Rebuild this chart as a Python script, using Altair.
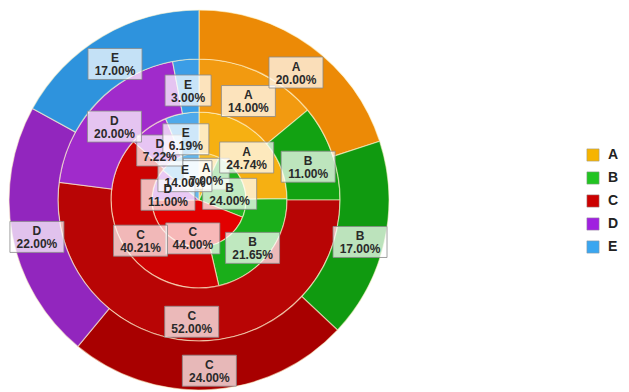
import math
import altair as alt
import pandas as pd

# ---------------- data ----------------
categories = ["A", "B", "C", "D", "E"]
ring1_values = [7.00, 24.00, 44.00, 11.00, 14.00]      # innermost pie
ring2_values = [24.74, 21.65, 40.21, 7.22, 6.19]
ring3_values = [14.00, 11.00, 52.00, 20.00, 3.00]
ring4_values = [20.00, 17.00, 24.00, 22.00, 17.00]     # outermost ring

legend_colors = ["#F6B400", "#22C422", "#CC0000", "#A020E0", "#3AA6F0"]
ring1_colors = ["#F8BE2A", "#20B420", "#E20000", "#B03ED8", "#66B8EE"]
ring2_colors = ["#F6B012", "#1AAE1A", "#CC0202", "#A830D2", "#4FA9EA"]
ring3_colors = ["#F29A10", "#12A212", "#B80505", "#A02BCB", "#3B9DE6"]
ring4_colors = ["#EC8A06", "#109A10", "#A80000", "#9226BE", "#2E93DD"]

rings = [ring1_values, ring2_values, ring3_values, ring4_values]
ring_colors = [ring1_colors, ring2_colors, ring3_colors, ring4_colors]

# ---------------- geometry / style ----------------
CX, CY = 199, 200
radii = [(0, 47), (47, 88), (88, 141), (141, 190)]
label_r = [33, 68, 116, 165]
LABEL_DROP = 6          # labels sit slightly below the segment centres
W, H = 629, 392

arc_rows, label_rows = [], []
for ri, (vals, cols) in enumerate(zip(rings, ring_colors)):
    total = sum(vals)
    cum = 0.0
    for i, (c, v, col) in enumerate(zip(categories, vals, cols)):
        arc_rows.append({"ring": ri, "cat": c, "idx": i, "value": v, "fill": col})
        mid = (cum + v / 2) / total * 2 * math.pi
        cum += v
        r = label_r[ri]
        x = r * math.sin(mid)
        y = r * math.cos(mid) - LABEL_DROP
        pct = f"{v:.2f}%"
        w = 8 * len(pct) + 6
        h = 31
        label_rows.append({
            "ring": ri,
            "text": f"{c}\n{pct}",
            "x": x, "y": y,
            "x1": x - w / 2, "x2": x + w / 2,
            "y1": y - h / 2, "y2": y + h / 2,
        })

arcs = pd.DataFrame(arc_rows)
labels = pd.DataFrame(label_rows)

xscale = alt.Scale(domain=[-CX, W - CX], nice=False, zero=False)
yscale = alt.Scale(domain=[-(H - CY), CY], nice=False, zero=False)

layers = []
for ri, (r_in, r_out) in enumerate(radii):
    layers.append(
        alt.Chart(arcs[arcs.ring == ri])
        .mark_arc(radius=r_out, radius2=r_in, stroke="#fff6d0",
                  strokeWidth=1.2, strokeOpacity=0.6)
        .encode(
            theta=alt.Theta("value:Q", stack="normalize"),
            color=alt.Color("fill:N", scale=None),
            order=alt.Order("idx:Q"),
            x=alt.value(CX), y=alt.value(CY),
        )
    )

# legend-only layer (draws nothing)
legend_df = pd.DataFrame({"cat": categories, "value": [1] * 5})
legend_layer = (
    alt.Chart(legend_df)
    .mark_arc(radius=0, radius2=0)
    .encode(
        theta=alt.Theta("value:Q", stack="normalize"),
        color=alt.Color(
            "cat:N",
            scale=alt.Scale(domain=categories, range=legend_colors),
            legend=alt.Legend(
                title=None, orient="none", legendX=586, legendY=148,
                symbolType="square", symbolSize=150,
                symbolStrokeColor="#999999", symbolStrokeWidth=0.5,
                labelFontSize=14, labelFont="Liberation Sans",
                labelColor="#222222", labelFontWeight="bold",
                rowPadding=7, labelOffset=8,
            ),
        ),
        x=alt.value(CX), y=alt.value(CY),
    )
)

for ri in range(4):
    sub = labels[labels.ring == ri]
    boxes = (
        alt.Chart(sub)
        .mark_rect(fill="#ffffff", fillOpacity=0.72, stroke="#8a8a8a",
                   strokeWidth=1, strokeOpacity=0.8)
        .encode(
            x=alt.X("x1:Q", scale=xscale, axis=None),
            x2="x2:Q",
            y=alt.Y("y1:Q", scale=yscale, axis=None),
            y2="y2:Q",
        )
    )
    texts = (
        alt.Chart(sub)
        .mark_text(font="Liberation Sans", fontSize=12, fontWeight="bold",
                   color="#2a2a2a", lineBreak="\n", lineHeight=13,
                   align="center", baseline="middle", dy=-6)
        .encode(
            x=alt.X("x:Q", scale=xscale, axis=None),
            y=alt.Y("y:Q", scale=yscale, axis=None),
            text="text:N",
        )
    )
    layers += [boxes, texts]

chart = (
    alt.layer(legend_layer, *layers)
    .resolve_scale(color="independent")
    .properties(width=W, height=H, padding=0,
                autosize=alt.AutoSizeParams(type="none"),
                background="#ffffff")
    .configure_view(stroke=None)
)

chart.save("out.html", embed_options={"renderer": "svg", "actions": False})
